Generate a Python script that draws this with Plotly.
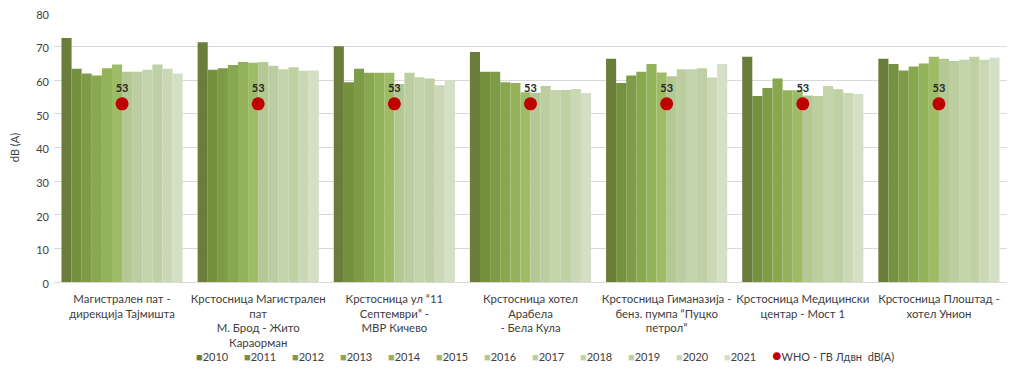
import plotly.graph_objects as go

categories = [
    "Магистрален пат -<br>дирекција Тајмишта",
    "Крстосница Магистрален<br>пат<br>М. Брод - Жито<br>Караорман",
    "Крстосница ул “11<br>Септември” -<br>МВР Кичево",
    "Крстосница хотел<br>Арабела<br>- Бела Кула",
    "Крстосница Гиманазија -<br>бенз. пумпа “Пуцко<br>петрол”",
    "Крстосница Медицински<br>центар - Мост 1",
    "Крстосница Плоштад -<br>хотел Унион",
]

years = ["2010", "2011", "2012", "2013", "2014", "2015",
         "2016", "2017", "2018", "2019", "2020", "2021"]

v2010 = [72.6, 71.3, 70.1, 68.4, 66.4, 67.0, 66.4]
v2011 = [63.4, 63.1, 59.4, 62.5, 59.2, 55.3, 64.8]
v2012 = [62.0, 63.6, 63.4, 62.5, 61.4, 57.7, 62.9]
v2013 = [61.4, 64.5, 62.2, 59.4, 62.5, 60.5, 64.1]
v2014 = [63.6, 65.4, 62.2, 59.2, 64.8, 57.0, 65.0]
v2015 = [64.7, 65.2, 62.2, 56.4, 62.3, 57.0, 67.0]
v2016 = [62.5, 65.4, 58.9, 56.3, 61.2, 55.5, 66.4]
v2017 = [62.5, 64.3, 62.2, 58.3, 63.3, 55.3, 65.7]
v2018 = [63.1, 63.3, 60.9, 57.1, 63.3, 58.3, 66.1]
v2019 = [64.7, 63.9, 60.5, 57.1, 63.6, 57.3, 67.0]
v2020 = [63.4, 62.8, 58.5, 57.4, 60.8, 56.2, 66.1]
v2021 = [62.0, 62.9, 60.0, 56.2, 64.8, 55.9, 66.7]
who_limit = [53, 53, 53, 53, 53, 53, 53]
who_name = "WHO - ГВ Лдвн  dB(A)"

series = [v2010, v2011, v2012, v2013, v2014, v2015,
          v2016, v2017, v2018, v2019, v2020, v2021]

colors = ["#6B7D3A", "#76903F", "#7E9B47", "#88A74F", "#93B25A", "#9EBC66",
          "#B4C893", "#BCCD9F", "#C3D3AA", "#BFD0A5", "#CAD8B6", "#D4DFC5"]
who_color = "#C00000"

FONT = "Lato"

fig = go.Figure()
for name, vals, col in zip(years, series, colors):
    fig.add_trace(go.Bar(x=categories, y=vals, name=name, showlegend=False,
                         marker=dict(color=col, line=dict(width=0))))

fig.add_trace(go.Scatter(
    x=categories, y=who_limit, name=who_name, showlegend=False,
    mode="markers+text",
    marker=dict(color=who_color, size=13, symbol="circle"),
    text=[str(v) for v in who_limit], textposition="top center",
    textfont=dict(family=FONT, size=11, color="#262626"),
    texttemplate="<b>%{text}</b>",
))

# compact legend entries (Excel style: small swatch right next to the label)
hidden_marker = dict(opacity=0, size=1, color="rgba(0,0,0,0)")
for name, col in zip(years, colors):
    fig.add_trace(go.Scatter(
        x=[None], y=[None], mode="markers", marker=hidden_marker,
        name=f'<span style="color:{col}">■</span>{name}', legendwidth=3,
        hoverinfo="skip"))
fig.add_trace(go.Scatter(
    x=[None], y=[None], mode="markers", marker=hidden_marker,
    name=f'<span style="color:{who_color};font-size:16px">●</span>{who_name}',
    hoverinfo="skip"))

# the page body has an 8px margin, so the figure is sized and padded to fit
fig.update_layout(
    width=1016, height=363,
    margin=dict(l=46, r=17, t=5, b=89, autoexpand=False),
    paper_bgcolor="white", plot_bgcolor="white",
    barmode="group", bargap=0.11, bargroupgap=0,
    font=dict(family=FONT, size=11, color="#404040"),
    showlegend=True,
    legend=dict(orientation="h", x=0.107, xanchor="left", y=-0.224, yanchor="top",
                bgcolor="rgba(0,0,0,0)",
                font=dict(family=FONT, size=11, color="#404040"),
                itemwidth=30, tracegroupgap=0),
    xaxis=dict(tickfont=dict(family=FONT, size=11.4, color="#404040"),
               showline=True, linecolor="#D9D9D9", ticks="", automargin=False,
               ticklabelstandoff=6),
    yaxis=dict(range=[0, 80], dtick=10, showgrid=True, gridcolor="#D9D9D9",
               zeroline=False, ticks="", automargin=False, ticklabelstandoff=4,
               ticklabeloverflow="allow", ticklabelshift=2,
               tickfont=dict(family=FONT, size=11, color="#404040"),
               title=dict(text="dB (A)", font=dict(family=FONT, size=11, color="#404040"),
                          standoff=18)),
)

fig.write_html("out.html")
